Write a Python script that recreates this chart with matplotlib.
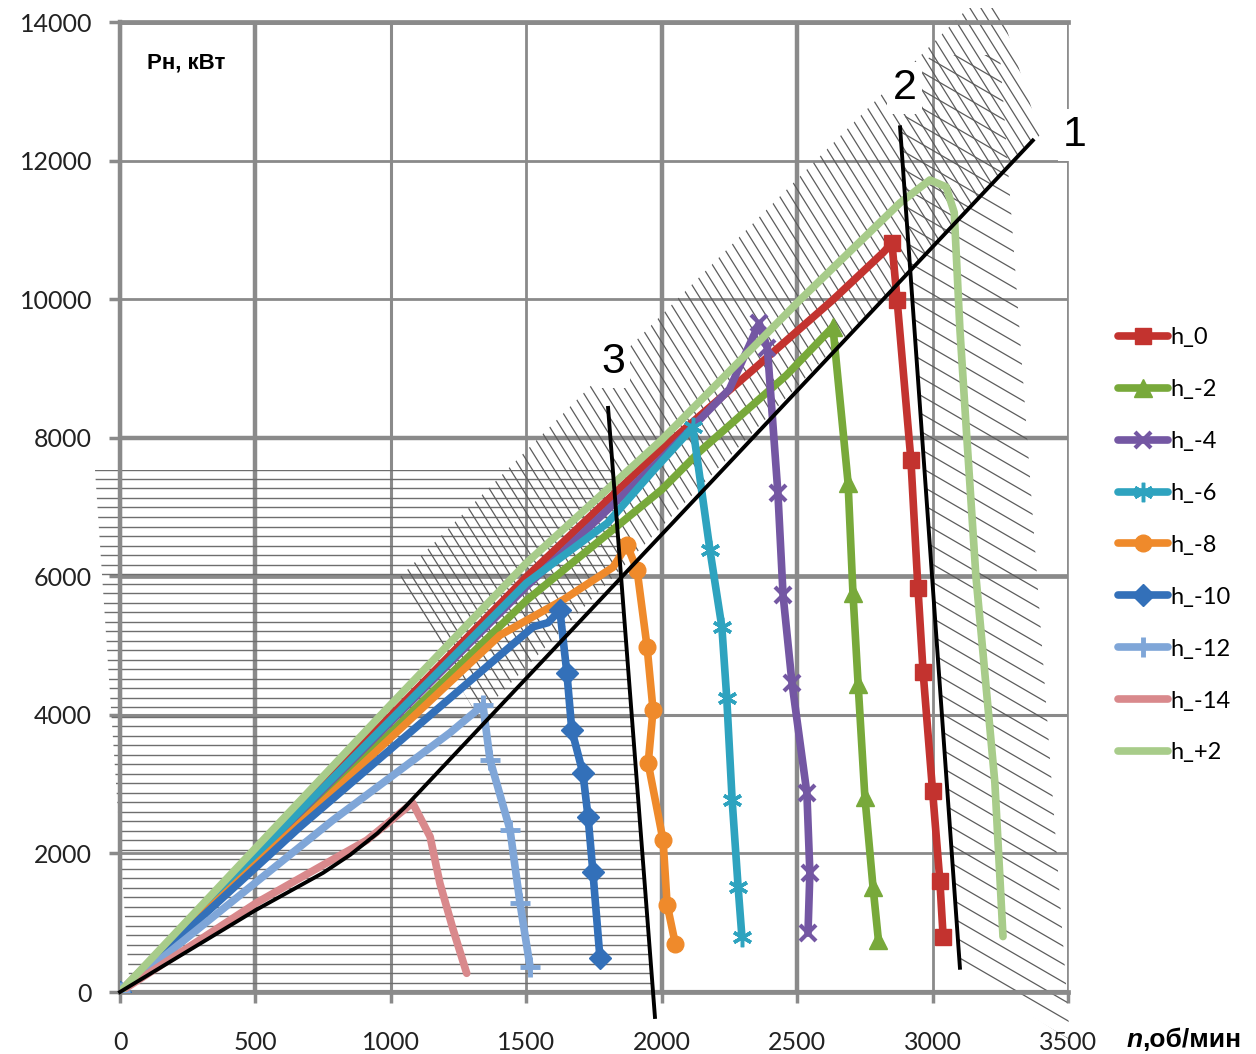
"""Load characteristics P(n) for several settings h, with the hatched limit zones."""

import matplotlib

matplotlib.use("Agg")

import matplotlib.pyplot as plt
import numpy as np
from matplotlib.collections import LineCollection
from matplotlib.patches import Polygon

plt.rcParams["font.family"] = ["Lato", "DejaVu Sans"]

X_TICKS = [0, 500, 1000, 1500, 2000, 2500, 3000, 3500]
Y_TICKS = [0, 2000, 4000, 6000, 8000, 10000, 12000, 14000]
SERIES_LABELS = ["h_0", "h_-2", "h_-4", "h_-6", "h_-8", "h_-10", "h_-12", "h_-14", "h_+2"]

# n, rpm / P, kW (rise, then the marked falling branch)
H0_X = [0, 1000, 1500, 1994, 2337, 2632, 2817, 2850, 2869, 2920, 2946, 2965, 3000, 3027, 3039]
H0_Y = [0, 3990, 5990, 7820, 8980, 9990, 10670, 10810, 9990, 7680, 5830, 4620, 2900, 1600, 800]
HM2_X = [0, 1000, 1500, 2000, 2140, 2460, 2632, 2688, 2706, 2725, 2750, 2780, 2800]
HM2_Y = [0, 3750, 5650, 7250, 7800, 8900, 9600, 7350, 5760, 4450, 2820, 1520, 750]
HM4_X = [0, 1000, 1500, 2000, 2250, 2360, 2390, 2429, 2448, 2481, 2536, 2547, 2540]
HM4_Y = [0, 3900, 5850, 7700, 8700, 9650, 9300, 7200, 5730, 4460, 2870, 1720, 850]
HM6_X = [0, 1000, 1500, 1800, 1970, 2115, 2178, 2222, 2240, 2260, 2282, 2296]
HM6_Y = [0, 3930, 5900, 6770, 7530, 8150, 6380, 5270, 4250, 2770, 1520, 800]
HM8_X = [0, 1000, 1403, 1636, 1820, 1872, 1909, 1946, 1968, 1950, 2005, 2020, 2050]
HM8_Y = [0, 3670, 5150, 5660, 6130, 6450, 6090, 4980, 4070, 3300, 2190, 1260, 700]
HM10_X = [0, 664, 1525, 1580, 1624, 1650, 1668, 1709, 1728, 1746, 1772]
HM10_Y = [0, 2380, 5270, 5330, 5510, 4600, 3780, 3160, 2530, 1730, 490]
HM12_X = [0, 786, 1218, 1340, 1366, 1440, 1477, 1514]
HM12_Y = [0, 2480, 3740, 4140, 3350, 2340, 1280, 360]
HM14_X = [0, 505, 911, 1080, 1145, 1181, 1230, 1280]
HM14_Y = [0, 1290, 2190, 2730, 2240, 1570, 900, 270]
HP2_X = [0, 1000, 1500, 2000, 2511, 2880, 2990, 3050, 3080, 3101, 3127, 3160, 3186, 3230, 3249, 3260]
HP2_Y = [0, 4150, 6190, 7970, 9990, 11390, 11720, 11620, 11250, 9560, 7970, 6000, 4900, 3020, 1620, 800]

# boundary lines 1, 2, 3
LINE1_X = [0, 250, 500, 750, 850, 950, 1050, 1150, 3370]
LINE1_Y = [0, 590, 1180, 1720, 1980, 2290, 2660, 3075, 12290]
LINE2_X = [2880, 3101]
LINE2_Y = [12480, 350]
LINE3_X = [1802, 1975]
LINE3_Y = [8430, -360]

SERIES_X = [H0_X, HM2_X, HM4_X, HM6_X, HM8_X, HM10_X, HM12_X, HM14_X, HP2_X]
SERIES_Y = [H0_Y, HM2_Y, HM4_Y, HM6_Y, HM8_Y, HM10_Y, HM12_Y, HM14_Y, HP2_Y]

COLORS = ["#c3332f", "#78a93a", "#7457a3", "#2ea3bf", "#ef8a2b",
          "#3370b9", "#7fa6d8", "#d9898c", "#a8cc8a"]
ASTERISK = (6, 2, 0)
MARKERS = [("s", 12, 1), ("^", 13, 1), ("x", 12, 3), (ASTERISK, 14, 2.5), ("o", 12, 1),
           ("D", 11, 1), ("+", 15, 3.5), (None, 0, 0), (None, 0, 0)]

GRID_GRAY = "#8a8a8a"
HATCH_GRAY = "#5c5c5c"
LABEL_FONT = ["Liberation Sans", "DejaVu Sans"]
FIG_W, FIG_H = 1256, 1054


def hatch_region(ax, poly_px, slope, step, lw=0.9, color=HATCH_GRAY):
    """Fill a polygon (picture pixels, origin top-left) with parallel lines.

    slope is the pixel drop per pixel to the right, step the vertical gap in pixels.
    """
    verts = np.array([(x, FIG_H - y) for x, y in poly_px], dtype=float)
    c_vals = verts[:, 1] + slope * verts[:, 0]
    inv = ax.transData.inverted()
    segs = []
    for c in np.arange(c_vals.min(), c_vals.max() + step, step):
        seg = np.array([(-50, c + slope * 50), (FIG_W + 50, c - slope * (FIG_W + 50))])
        segs.append(inv.transform(seg))
    lc = LineCollection(segs, colors=color, linewidths=lw, zorder=1.6)
    clip = Polygon(inv.transform(verts), closed=True, transform=ax.transData)
    lc.set_clip_path(clip)
    ax.add_collection(lc, autolim=False)


def main() -> None:
    fig = plt.figure(figsize=(FIG_W / 100, FIG_H / 100), dpi=100)
    ax = fig.add_axes([120 / FIG_W, 62 / FIG_H, 948 / FIG_W, 970 / FIG_H])
    ax.set_xlim(0, 3500)
    ax.set_ylim(0, 14000)

    # grid, heavier lines as in the scan
    ax.set_axisbelow(True)
    ax.grid(True, color=GRID_GRAY, linewidth=2)
    ax.set_xticks(X_TICKS, [str(v) for v in X_TICKS])
    ax.set_yticks(Y_TICKS, [str(v) for v in Y_TICKS])
    x_widths = [3, 3.2, 2.2, 2.0, 3.2, 3.2, 2.0, 1.2]
    y_widths = [3, 2.0, 2.2, 3.4, 3.2, 2.0, 2.0, 3.4]
    for line, w in zip(ax.get_xgridlines(), x_widths):
        line.set_linewidth(w)
    for line, w in zip(ax.get_ygridlines(), y_widths):
        line.set_linewidth(w)
    for side, w in {"left": 3.2, "bottom": 3.4, "top": 3.4, "right": 1.2}.items():
        ax.spines[side].set_color(GRID_GRAY)
        ax.spines[side].set_linewidth(w)
    ax.tick_params(axis="both", colors=GRID_GRAY, width=2.5, length=8, labelsize=18,
                   labelcolor="#222222")
    ax.tick_params(axis="x", pad=20)
    ax.tick_params(axis="y", pad=12)

    # hatched zones
    hatch_region(ax, [(95, 470), (612, 470), (654, 992), (130, 992)], 0.0, 9.5, lw=1.0,
                 color="#6e6e6e")
    hatch_region(ax, [(397, 580), (968, 8), (1000, 8), (1040, 135), (478, 717)], 1.6, 17.6)
    hatch_region(ax, [(930, 55), (1000, 55), (1070, 1040), (960, 970), (900, 130)], 0.58, 18)

    handles = []
    for xs, ys, label, color, (marker, ms, mew) in zip(SERIES_X, SERIES_Y, SERIES_LABELS,
                                                      COLORS, MARKERS):
        peak = int(np.argmax(ys))
        marks = [0] + list(range(peak, len(xs)))
        (h,) = ax.plot(xs, ys, color=color, linewidth=5.5, marker=marker, markersize=ms,
                       markeredgewidth=mew, markevery=marks, solid_joinstyle="round",
                       solid_capstyle="round", label=label, zorder=3)
        handles.append(h)

    for xs, ys in [(LINE1_X, LINE1_Y), (LINE2_X, LINE2_Y), (LINE3_X, LINE3_Y)]:
        ax.plot(xs, ys, color="black", linewidth=2.8, zorder=4, clip_on=False,
                solid_joinstyle="round")

    box = dict(facecolor="white", edgecolor="none", pad=4)
    for text, x, y in [("1", 3526, 12369), ("2", 2898, 13047), ("3", 1820, 9093)]:
        ax.text(x, y, text, fontsize=31, family=["Liberation Sans"], ha="center",
                va="center", bbox=box, zorder=5, clip_on=False)

    ax.text(0.0285, 0.958, "Рн, кВт", transform=ax.transAxes, fontsize=16,
            fontweight="bold", family=LABEL_FONT, ha="left", va="center")
    fig.text(1127 / FIG_W, 1 - 1040 / FIG_H, "n", fontsize=19, fontweight="bold",
             style="italic", family=LABEL_FONT, ha="left", va="center")
    fig.text(1142 / FIG_W, 1 - 1040 / FIG_H, ",об/мин", fontsize=19, fontweight="bold",
             family=LABEL_FONT, ha="left", va="center")

    fig.legend(handles=handles, loc="upper left", bbox_to_anchor=(1118 / FIG_W, 1 - 327 / FIG_H),
               frameon=False, fontsize=17, handlelength=2.1, handletextpad=0.12,
               labelspacing=1.31, borderpad=0, borderaxespad=0)

    fig.savefig("out.png", dpi=100)
    plt.close(fig)


if __name__ == "__main__":
    main()
